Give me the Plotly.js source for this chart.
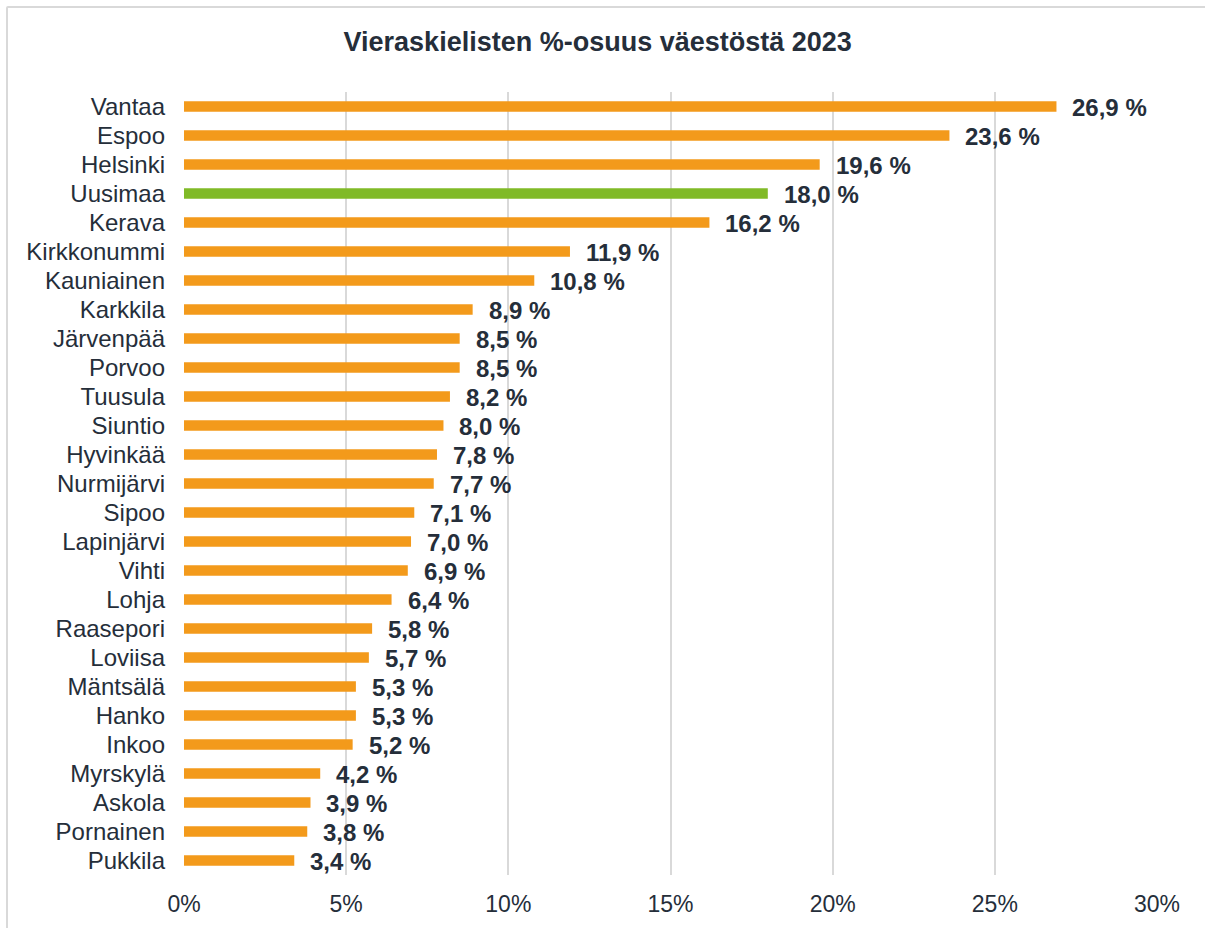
<!DOCTYPE html>
<html>
<head>
<meta charset="utf-8">
<script src="https://cdn.plot.ly/plotly-3.0.1.min.js"></script>
<style>
html,body{margin:0;padding:0;background:#fff;}
#frame{position:absolute;left:6px;top:6px;width:1300px;height:1000px;border:2px solid #d9d9d9;border-radius:2px;box-sizing:border-box;pointer-events:none;}
#chart{position:absolute;left:0;top:0;width:1205px;height:928px;}
</style>
</head>
<body>
<div id="chart"></div>
<div id="frame"></div>
<script>
const categories = ["Vantaa","Espoo","Helsinki","Uusimaa","Kerava","Kirkkonummi","Kauniainen","Karkkila","Järvenpää","Porvoo","Tuusula","Siuntio","Hyvinkää","Nurmijärvi","Sipoo","Lapinjärvi","Vihti","Lohja","Raasepori","Loviisa","Mäntsälä","Hanko","Inkoo","Myrskylä","Askola","Pornainen","Pukkila"];
const values = [26.9,23.6,19.6,18.0,16.2,11.9,10.8,8.9,8.5,8.5,8.2,8.0,7.8,7.7,7.1,7.0,6.9,6.4,5.8,5.7,5.3,5.3,5.2,4.2,3.9,3.8,3.4];
const highlight = "Uusimaa";
const tickValues = [0,5,10,15,20,25,30];
const tickLabels = tickValues.map(v => v + '%');

const ORANGE = "#F39A1B";
const GREEN = "#80BA27";
const DARK = "#252E3A";
const FONT = 'Liberation Sans, Arial, sans-serif';

const barColors = categories.map(c => c === highlight ? GREEN : ORANGE);
const labels = values.map(v => v.toFixed(1).replace('.', ',') + ' %');

const bars = {
  type: 'bar', orientation: 'h',
  x: values, y: categories,
  marker: {color: barColors},
  width: 0.37,
  hoverinfo: 'x+y',
  showlegend: false
};

const annotations = values.map((v, i) => ({
  x: v, y: categories[i], xref: 'x', yref: 'y',
  text: '<b>' + labels[i] + '</b>',
  showarrow: false, xanchor: 'left', yanchor: 'middle',
  xshift: 14, yshift: -1,
  font: {family: FONT, size: 24, color: DARK}
}));

const layout = {
  width: 1205, height: 928,
  margin: {l: 183.5, r: 48, t: 92, b: 53},
  paper_bgcolor: '#fff', plot_bgcolor: '#fff',
  font: {family: FONT, color: DARK},
  title: {text: '<b>Vieraskielisten %-osuus väestöstä 2023</b>', x: 0.496, xanchor: 'center', y: 0.955, yanchor: 'middle',
          font: {size: 27, color: DARK}},
  xaxis: {
    range: [0, 30], tickvals: tickValues, ticktext: tickLabels,
    showgrid: true, gridcolor: '#d9d9d9', gridwidth: 2,
    zeroline: false, showline: false, ticks: '',
    tickfont: {size: 23, color: DARK}, ticklabelstandoff: 13, fixedrange: true
  },
  yaxis: {
    type: 'category', range: [categories.length - 0.5, -0.5], autorange: false,
    showgrid: false, zeroline: false, showline: false, ticks: '',
    tickfont: {size: 24, color: DARK}, ticklabelstandoff: 18, fixedrange: true
  },
  annotations: annotations,
  bargap: 0.6
};

Plotly.newPlot('chart', [bars], layout, {displayModeBar: false, staticPlot: true});
</script>
</body>
</html>
